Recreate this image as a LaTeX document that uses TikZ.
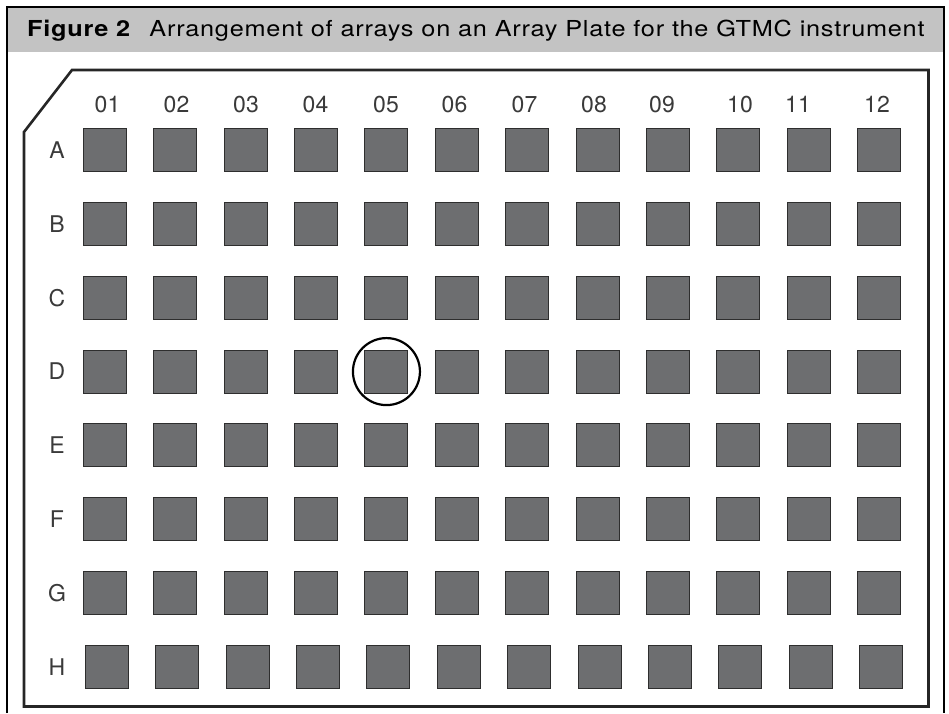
\documentclass[tikz,border=0pt]{standalone}
\usepackage{fontspec}
\setmainfont{TeX Gyre Heros}
\definecolor{headgray}{HTML}{C3C3C3}
\definecolor{wellgray}{HTML}{6D6E70}
\definecolor{wellline}{HTML}{2E2E2E}
\definecolor{labelgray}{HTML}{3A3A3A}
\tikzset{
  well/.style={draw=wellline, fill=wellgray, line width=1pt, minimum size=43pt, inner sep=0pt},
  platelabel/.style={font=\fontsize{23pt}{25pt}\selectfont, text=labelgray, inner sep=0pt},
}
\begin{document}
\begin{tikzpicture}[x=1pt, y=-1pt]
    \useasboundingbox (0,0) rectangle (949,713);
    % Header
    \fill[headgray] (7,7) rectangle (944,52);
    \draw[line width=1.4pt] (7,713) -- (7,7) -- (944,7) -- (944,713);
    \node[anchor=base west, inner sep=0pt, font=\fontsize{22pt}{24pt}\selectfont] (title) at (27,36)
        {\scalebox{1.15}[1]{\addfontfeature{LetterSpace=3}\textbf{Figure 2}\hspace{16pt}Arrangement of arrays on an Array Plate for the GTMC instrument}};

    % Plate outline
    \draw[line width=2.6pt, black!85, line join=miter] (72,70) -- (928.5,70) -- (928.5,706.5) -- (24,706.5) -- (24,132) -- cycle;

    % Column labels
    \foreach \c/\lx in {01/107.5, 02/176.5, 03/246, 04/315.5, 05/386, 06/454.5, 07/524.5, 08/594, 09/662, 10/740, 11/798, 12/877}
        \node[platelabel, anchor=base] (col-\c) at (\lx,112) {\c};

    % Row labels and wells
    \foreach \r [count=\j from 0] in {A,B,C,D,E,F,G,H} {
        \node[platelabel] (row-\r) at (57,{150+73.86*\j}) {\r};
        \pgfmathsetmacro\dx{ifthenelse(\j==7,2,0)}
        \foreach \i in {1,...,12}
            \node[well] (\r-\i) at ({105+70.36*(\i-1)+\dx},{150+73.86*\j}) {};
    }

    % Marked array
    \node[draw, circle, line width=2.2pt, minimum size=67pt, inner sep=0pt] (mark) at (D-5) {};
\end{tikzpicture}
\end{document}
